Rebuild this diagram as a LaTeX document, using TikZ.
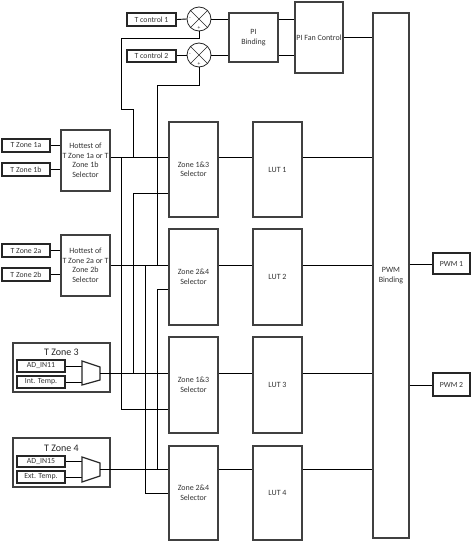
\documentclass[tikz,border=0pt]{standalone}
\usepackage{fontspec}
\setmainfont{Carlito}
\begin{document}
\begin{tikzpicture}[x=1pt,y=-1pt,
  blk/.style={draw=black!75, line width=1.4pt, fill=white, inner sep=1pt, align=center, font=\fontsize{8}{9.5}\selectfont, text=black!80},
  inbox/.style={draw=black!85, line width=2pt, fill=white, inner sep=0pt, font=\fontsize{7.8}{8}\selectfont, text=black!80},
  grp/.style={draw=black!75, line width=1.4pt, fill=white, inner sep=0pt},
  sumc/.style={draw=black!85, circle, line width=0.8pt, minimum size=24, inner sep=0pt},
  sgn/.style={font=\fontsize{5.5}{5.5}\selectfont, inner sep=0pt, text=black!80},
  wire/.style={line width=0.9pt, black},
  muxs/.style={draw=black!85, line width=1.2pt, fill=white}]
\useasboundingbox (0,0) rectangle (471,543);

% row coordinates
\coordinate (r19) at (0,19);
\coordinate (r55) at (0,55);
\coordinate (r37) at (0,37);
\coordinate (r157) at (0,157);
\coordinate (r193) at (0,193);
\coordinate (r265) at (0,265);
\coordinate (r289) at (0,289);
\coordinate (r373) at (0,373);
\coordinate (r409) at (0,409);
\coordinate (r469) at (0,469);
\coordinate (r493) at (0,493);
\coordinate (r264) at (0,264);
\coordinate (r385) at (0,385);

% top control chain
\node[inbox, minimum width=49, minimum height=13] (tc1) at (151.5,19.5) {T control 1};
\node[inbox, minimum width=49, minimum height=12] (tc2) at (151.5,56) {T control 2};
\node[sumc] (s1) at (199,19) {};
\node[sumc] (s2) at (199,55) {};
\draw[line width=0.7pt, black!85] (s1.north west) -- (s1.south east) (s1.north east) -- (s1.south west);
\draw[line width=0.7pt, black!85] (s2.north west) -- (s2.south east) (s2.north east) -- (s2.south west);
\node[sgn] at (190,19) {-};
\node[sgn] at (199,28) {+};
\node[sgn] at (190,55) {-};
\node[sgn] at (199,64) {+};
\node[blk, minimum width=49, minimum height=49] (pib) at (253.5,37.5) {PI\\Binding};
\node[blk, minimum width=48, minimum height=71, inner sep=0pt] (pfc) at (319,37.5) {PI Fan Control};
\node[blk, minimum width=36, minimum height=525] (pwm) at (391,275.5) {PWM\\Binding};
\node[inbox, minimum width=37, minimum height=21] (pwm1) at (451.5,263.5) {PWM 1};
\node[inbox, minimum width=37, minimum height=23] (pwm2) at (451.5,384.5) {PWM 2};

\draw[wire] (tc1.east) -- (s1.west);
\draw[wire] (tc2.east |- s2.west) -- (s2.west);
\draw[wire] (s1.east) -- (pib.west |- s1.east);
\draw[wire] (s2.east) -- (pib.west |- s2.east);
\draw[wire] (pib.east |- r19) -- (pfc.west |- r19);
\draw[wire] (pib.east |- r55) -- (pfc.west |- r55);
\draw[wire] (pfc.east |- r37) -- (pwm.west |- r37);
\draw[wire] (pwm.east |- r264) -- (pwm1.west |- r264);
\draw[wire] (pwm.east |- r385) -- (pwm2.west |- r385);

% selectors and LUTs
\node[blk, minimum width=49, minimum height=95] (sel1) at (193.5,169.5) {Zone 1\&3\\Selector};
\node[blk, minimum width=49, minimum height=96] (sel2) at (193.5,277) {Zone 2\&4\\Selector};
\node[blk, minimum width=49, minimum height=96] (sel3) at (193.5,385) {Zone 1\&3\\Selector};
\node[blk, minimum width=49, minimum height=94] (sel4) at (193.5,493) {Zone 2\&4\\Selector};
\node[blk, minimum width=49, minimum height=95] (lut1) at (277.5,169.5) {LUT 1};
\node[blk, minimum width=49, minimum height=96] (lut2) at (277.5,277) {LUT 2};
\node[blk, minimum width=49, minimum height=96] (lut3) at (277.5,385) {LUT 3};
\node[blk, minimum width=49, minimum height=94] (lut4) at (277.5,493) {LUT 4};

% hottest selectors and inputs
\node[blk, minimum width=49, minimum height=61] (hot1) at (85.5,160.5) {Hottest of\\T Zone 1a or T\\Zone 1b\\Selector};
\node[blk, minimum width=49, minimum height=61] (hot2) at (85.5,265.5) {Hottest of\\T Zone 2a or T\\Zone 2b\\Selector};
\node[inbox, minimum width=48, minimum height=13] (tz1a) at (26,145.5) {T Zone 1a};
\node[inbox, minimum width=48, minimum height=13] (tz1b) at (26,169.5) {T Zone 1b};
\node[inbox, minimum width=48, minimum height=13] (tz2a) at (26,250.5) {T Zone 2a};
\node[inbox, minimum width=48, minimum height=13] (tz2b) at (26,274.5) {T Zone 2b};
\draw[wire] (tz1a.east) -- (hot1.west |- tz1a.east);
\draw[wire] (tz1b.east) -- (hot1.west |- tz1b.east);
\draw[wire] (tz2a.east) -- (hot2.west |- tz2a.east);
\draw[wire] (tz2b.east) -- (hot2.west |- tz2b.east);

% zone 3 and 4 groups
\node[grp, minimum width=97, minimum height=49] (z3) at (61.5,367.5) {};
\node[font=\fontsize{10}{12}\selectfont, text=black!85, inner sep=0pt] (z3t) at (61.5,352) {T Zone 3};
\node[inbox, minimum width=48, minimum height=12] (ad11) at (41,366) {AD\_IN11};
\node[inbox, minimum width=48, minimum height=12] (itmp) at (41,382) {Int. Temp.};
\coordinate (m3l) at (82,373);
\coordinate (m3o) at (100,373);
\draw[wire] (ad11.east) -- (ad11.east -| m3l);
\draw[wire] (itmp.east) -- (itmp.east -| m3l);
\draw[muxs] (82,361) -- (100,367) -- (100,380) -- (82,385) -- cycle;

\node[grp, minimum width=97, minimum height=49] (z4) at (61.5,462.5) {};
\node[font=\fontsize{10}{12}\selectfont, text=black!85, inner sep=0pt] (z4t) at (61.5,448) {T Zone 4};
\node[inbox, minimum width=48, minimum height=11] (ad15) at (41,461.5) {AD\_IN15};
\node[inbox, minimum width=48, minimum height=12] (etmp) at (41,477) {Ext. Temp.};
\coordinate (m4l) at (82,469);
\coordinate (m4o) at (100,469);
\draw[wire] (ad15.east) -- (ad15.east -| m4l);
\draw[wire] (etmp.east) -- (etmp.east -| m4l);
\draw[muxs] (82,457) -- (100,463) -- (100,476) -- (82,482) -- cycle;

% main rows
\draw[wire] (hot1.east |- r157) -- (sel1.west |- r157);
\draw[wire] (sel1.east |- r157) -- (lut1.west |- r157);
\draw[wire] (lut1.east |- r157) -- (pwm.west |- r157);
\draw[wire] (hot2.east |- r265) -- (sel2.west |- r265);
\draw[wire] (sel2.east |- r265) -- (lut2.west |- r265);
\draw[wire] (lut2.east |- r265) -- (pwm.west |- r265);
\draw[wire] (m3o) -- (sel3.west |- r373);
\draw[wire] (sel3.east |- r373) -- (lut3.west |- r373);
\draw[wire] (lut3.east |- r373) -- (pwm.west |- r373);
\draw[wire] (m4o) -- (sel4.west |- r469);
\draw[wire] (sel4.east |- r469) -- (lut4.west |- r469);
\draw[wire] (lut4.east |- r469) -- (pwm.west |- r469);

% feedback and cross wiring
\coordinate (j1) at (133,157);
\coordinate (j2) at (157,265);
\draw[wire] (s1.south) |- (121,38) |- (133,109) -- (j1);
\draw[wire] (s2.south) |- (157,85) -- (j2);
\draw[wire] (121,157) -- (121,409) -- (sel3.west |- r409);
\draw[wire] (sel1.west |- r193) -| (133,373);
\draw[wire] (145,265) |- (sel4.west |- r493);
\draw[wire] (sel2.west |- r289) -| (157,469);
\end{tikzpicture}
\end{document}
